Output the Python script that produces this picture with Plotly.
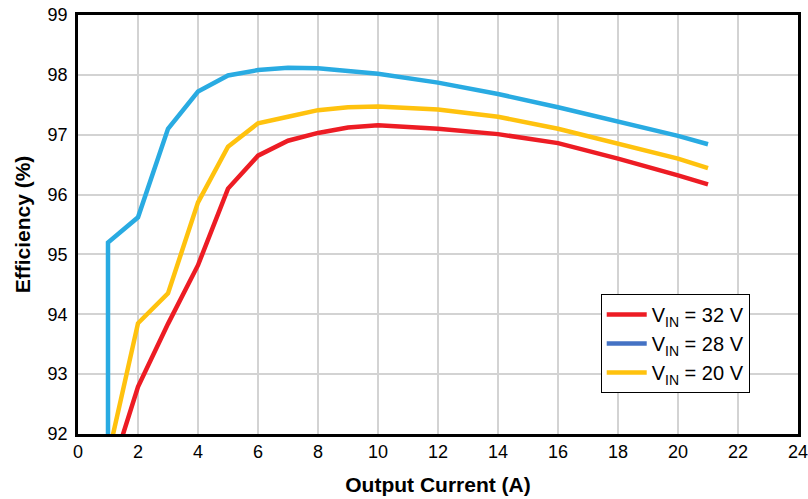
import plotly.graph_objects as go

current = [1, 2, 3, 4, 5, 6, 7, 8, 9, 10, 12, 14, 16, 18, 20, 21]
eff_32v = [91.2, 92.79, 93.84, 94.82, 96.1, 96.65, 96.9, 97.03, 97.12, 97.16, 97.1, 97.01, 96.86, 96.6, 96.32, 96.17]
eff_20v = [91.62, 93.85, 94.35, 95.87, 96.8, 97.19, 97.3, 97.41, 97.46, 97.47, 97.42, 97.3, 97.1, 96.85, 96.6, 96.44]
current_28v = [1, 1, 2, 3, 4, 5, 6, 7, 8, 9, 10, 12, 14, 16, 18, 20, 21]
eff_28v = [91.5, 95.2, 95.62, 97.1, 97.72, 97.99, 98.08, 98.12, 98.11, 98.07, 98.02, 97.87, 97.68, 97.46, 97.22, 96.98, 96.84]

series_names = ["V<sub>IN</sub> = 32 V", "V<sub>IN</sub> = 28 V", "V<sub>IN</sub> = 20 V"]
line_colors = ["#ED1C24", "#29ABE2", "#FFC20E"]
legend_colors = ["#ED1C24", "#4472C4", "#FFC20E"]

font_fam = "Liberation Sans Narrow, Liberation Sans, Arial, sans-serif"

fig = go.Figure()
for xs, ys, c in [(current, eff_32v, line_colors[0]),
                  (current_28v, eff_28v, line_colors[1]),
                  (current, eff_20v, line_colors[2])]:
    fig.add_trace(go.Scatter(x=xs, y=ys, mode="lines", line=dict(color=c, width=4.5),
                             showlegend=False, hoverinfo="skip"))
for name, c in zip(series_names, legend_colors):
    fig.add_trace(go.Scatter(x=[None], y=[None], mode="lines", name=name,
                             line=dict(color=c, width=4.5)))

fig.update_layout(
    width=808, height=499,
    margin=dict(l=78, r=10, t=15, b=65, autoexpand=False),
    paper_bgcolor="white", plot_bgcolor="white",
    font=dict(family=font_fam, size=18, color="black"),
    showlegend=True,
    legend=dict(x=0.726, y=0.334, xanchor="left", yanchor="top",
                bordercolor="black", borderwidth=1, bgcolor="white",
                font=dict(size=20, family=font_fam), tracegroupgap=0,
                itemwidth=40),
    xaxis=dict(range=[0, 24], dtick=2, tick0=0, showgrid=True, gridcolor="#D3D3D3", gridwidth=2,
               showline=True, linecolor="black", linewidth=2.5, mirror=True, ticks="",
               zeroline=False, automargin=False, ticklabeloverflow="allow",
               title=dict(text="<b>Output Current (A)</b>", font=dict(size=21, family=font_fam), standoff=16)),
    yaxis=dict(range=[92, 99], dtick=1, showgrid=True, gridcolor="#D3D3D3", gridwidth=2,
               showline=True, linecolor="black", linewidth=2.5, mirror=True, ticks="",
               zeroline=False, ticklabelstandoff=4, automargin=False, ticklabeloverflow="allow",
               title=dict(text="<b>Efficiency (%)</b>", font=dict(size=21, family=font_fam), standoff=12)),
)

fig.write_html("out.html", config={"displayModeBar": False},
               post_script="document.body.style.margin='0';document.body.style.overflow='hidden';")
